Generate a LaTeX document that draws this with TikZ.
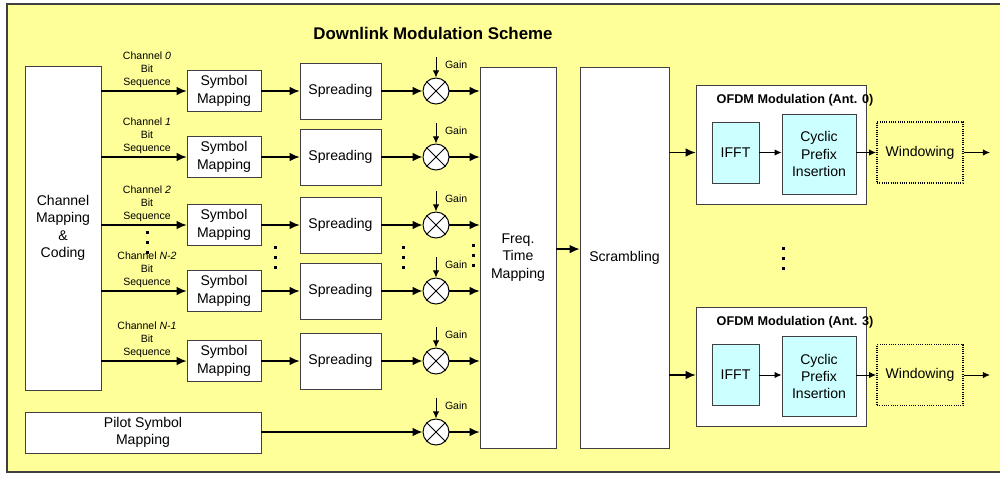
\documentclass[tikz,border=0pt]{standalone}
\usepackage{fontspec}
\setmainfont{Liberation Sans}
\usetikzlibrary{arrows.meta}
\newcommand{\pxl}{0.025cm}
\definecolor{bgyellow}{HTML}{FFFF99}
\definecolor{ltcyan}{HTML}{CCFFFF}
\definecolor{framegray}{HTML}{404040}
\begin{document}
\begin{tikzpicture}[x=\pxl,y=-\pxl,>={Latex[length=7pt,width=6pt]},line width=.9pt,
	box/.style={draw=framegray,fill=white,line width=.6pt,inner sep=0pt,align=center,font=\fontsize{10}{12.3}\selectfont},
	winbox/.style={box,draw=black,fill=bgyellow,densely dotted,line width=1.3pt},
	mult/.style={circle,draw=black,fill=white,line width=.7pt,minimum size=26*\pxl,inner sep=0pt},
	lbl/.style={font=\fontsize{7.5}{9.3}\selectfont,align=center,inner sep=1pt},
	thin arrow/.style={line width=.7pt,-{Latex[length=5pt,width=4.5pt]}}]
	\useasboundingbox (0,0) rectangle (1000,476);
	\draw[framegray,fill=bgyellow,line width=.8pt] (7,4) rectangle (1010,472);
	
	\node[font=\bfseries\fontsize{12}{14}\selectfont] (title) at (433,33) {Downlink Modulation Scheme};
	
	% big blocks
	\node[box,minimum width=76*\pxl,minimum height=324*\pxl] (chmap) at (63,228) {Channel\\Mapping\\\&\\Coding};
	\node[box,minimum width=236*\pxl,minimum height=41*\pxl] (pilot) at (143,432.5) {Pilot Symbol\\Mapping};
	\node[box,minimum width=76*\pxl,minimum height=381*\pxl] (freq) at (518,257.5) {Freq.\\Time\\Mapping};
	\node[box,minimum width=89*\pxl,minimum height=381*\pxl] (scr) at (624.5,257.5) {Scrambling};
	
	% channel rows
	\foreach \y/\ch [count=\i] in {91/0,157/1,225/2,291/N-2,361/N-1} {
		\node[box,minimum width=74*\pxl,minimum height=41*\pxl] (sym\i) at (224,\y) {Symbol\\Mapping};
		\node[box,minimum width=81*\pxl,minimum height=56*\pxl] (spr\i) at (340.5,\y) {Spreading};
		\node[lbl,anchor=south] (chlbl\i) at (147,\y-1) {Channel \textit{\ch}\\Bit\\Sequence};
		\draw[->] (chmap.east |- sym\i) -- (sym\i);
		\draw[->] (sym\i) -- (spr\i);
	}
	
	% gains
	\foreach \y/\k in {91/1,157/2,225/3,291/4,361/5,432/6} {
		\node[mult] (mul\k) at (436,\y) {};
		\draw[line width=.7pt] (mul\k.45) -- (mul\k.225) (mul\k.135) -- (mul\k.315);
		\coordinate (gin\k) at (436,\y-34);
		\draw[thin arrow] (gin\k) -- (mul\k);
		\node[lbl,anchor=west] (gain\k) at (443,\y-26) {Gain};
		\draw[->] (mul\k) -- (freq.west |- mul\k);
	}
	\foreach \k in {1,...,5}
		\draw[->] (spr\k) -- (mul\k);
	\draw[->] (pilot.east |- mul6) -- (mul6);
	
	\draw[->] ([yshift=6pt]freq.east) -- ([yshift=6pt]scr.west);
	
	% OFDM modulators
	\foreach \dy/\a in {0/0,222.5/3} {
		\node[box,minimum width=170*\pxl,minimum height=119*\pxl] (ofdm\a) at (781,144.5+\dy) {};
		\node[font=\bfseries\fontsize{9}{11}\selectfont,inner sep=0pt] (ofdmttl\a) at (795,100+\dy) {OFDM Modulation (Ant. \a)};
		\node[box,fill=ltcyan,minimum width=47*\pxl,minimum height=61*\pxl] (ifft\a) at (735.5,152.5+\dy) {IFFT};
		\node[box,fill=ltcyan,minimum width=74*\pxl,minimum height=80*\pxl] (cp\a) at (819,154+\dy) {Cyclic\\Prefix\\Insertion};
		\node[winbox,minimum width=86*\pxl,minimum height=61*\pxl] (win\a) at (920,152.5+\dy) {Windowing};
		\coordinate (out\a) at (990,152.5+\dy);
		\draw[->] (scr.east |- ifft\a) -- (ofdm\a.west |- ifft\a);
		\draw[thin arrow] (ifft\a) -- (cp\a.west |- ifft\a);
		\draw[thin arrow] (cp\a.east |- win\a) -- (win\a);
		\draw[thin arrow] (win\a) -- (out\a);
	}
	
	% dots
	\foreach \x/\y in {147/232,275/247,403/247,473/245,783/248}
		\foreach \k in {0,1,2}
			\fill (\x-1.5,\y+\k*10-1.5) rectangle ++(3,3);
\end{tikzpicture}
\end{document}
